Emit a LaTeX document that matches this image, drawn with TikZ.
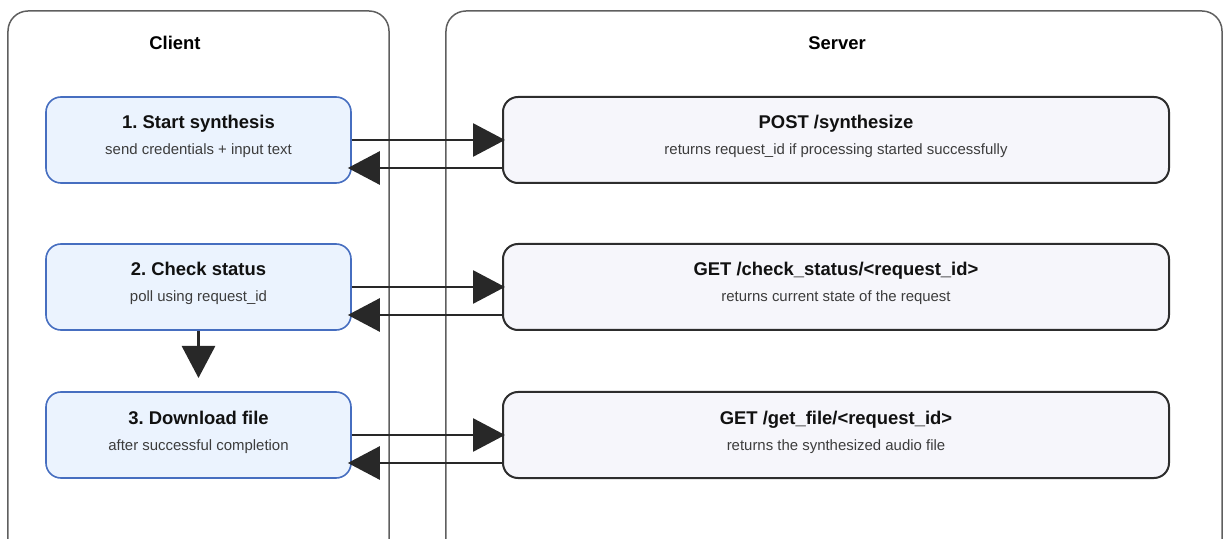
\documentclass[tikz,border=0pt]{standalone}
\usepackage{fontspec}
\setmainfont{Liberation Sans}
\usetikzlibrary{arrows.meta}
\frenchspacing

\definecolor{clientfill}{RGB}{235,243,254}
\definecolor{clientline}{RGB}{70,110,192}
\definecolor{serverfill}{RGB}{246,246,251}
\definecolor{serverline}{RGB}{45,45,45}
\definecolor{frameline}{RGB}{95,95,95}
\definecolor{arrowcol}{RGB}{40,40,40}
\definecolor{subcol}{RGB}{60,60,60}

\tikzset{
  frame/.style={draw=frameline, line width=1.5bp, rounded corners=20bp, inner sep=0pt},
  clientbox/.style={draw=clientline, fill=clientfill, line width=1.6bp, rounded corners=15bp,
    minimum width=305bp, minimum height=86bp, inner sep=0pt},
  serverbox/.style={draw=serverline, fill=serverfill, line width=2bp, rounded corners=15bp,
    minimum width=666bp, minimum height=86bp, inner sep=0pt},
  heading/.style={anchor=base, font=\bfseries\fontsize{18.5}{22}\selectfont, text=black, inner sep=0pt},
  boxtitle/.style={anchor=base, font=\bfseries\fontsize{18.5}{22}\selectfont, text={rgb,255:red,17;green,17;blue,17}, inner sep=0pt},
  boxsub/.style={anchor=base, font=\fontsize{15}{18}\selectfont, text=subcol, inner sep=0pt},
  arr/.style={draw=arrowcol, line width=2.8bp, -{Triangle[length=32bp,width=33bp]}},
}

\begin{document}
\begin{tikzpicture}[x=1bp, y=-1bp]
  \useasboundingbox (0,0) rectangle (1224,539);
  \clip (0,0) rectangle (1224,539);

  % swimlane frames (they run past the lower edge)
  \node[frame, minimum width=381bp, minimum height=550bp] (client) at (198.5,286) {};
  \node[frame, minimum width=776bp, minimum height=550bp] (server) at (834,286) {};
  \node[heading] (clientlbl) at (175,50) {Client};
  \node[heading] (serverlbl) at (837,50) {Server};

  % client steps
  \node[clientbox] (c1) at (198.5,140) {};
  \node[clientbox] (c2) at (198.5,287) {};
  \node[clientbox] (c3) at (198.5,435) {};
  \node[boxtitle] (c1t) at (198.5,129) {1. Start synthesis};
  \node[boxsub]   (c1s) at (198.5,155) {send credentials + input text};
  \node[boxtitle] (c2t) at (198.5,276) {2. Check status};
  \node[boxsub]   (c2s) at (198.5,302) {poll using request\_id};
  \node[boxtitle] (c3t) at (198.5,424) {3. Download file};
  \node[boxsub]   (c3s) at (198.5,450) {after successful completion};

  % server endpoints
  \node[serverbox] (s1) at (836,140) {};
  \node[serverbox] (s2) at (836,287) {};
  \node[serverbox] (s3) at (836,435) {};
  \node[boxtitle] (s1t) at (836,129) {POST /synthesize};
  \node[boxsub]   (s1s) at (836,155) {returns request\_id if processing started successfully};
  \node[boxtitle] (s2t) at (836,276) {GET /check\_status/<request\_id>};
  \node[boxsub]   (s2s) at (836,302) {returns current state of the request};
  \node[boxtitle] (s3t) at (836,424) {GET /get\_file/<request\_id>};
  \node[boxsub]   (s3s) at (836,450) {returns the synthesized audio file};

  % requests and responses
  \foreach \i in {1,2,3}{
    \draw[arr, shorten >=-3bp] (c\i.east) -- (s\i.west);
    \draw[arr, shorten >=-4bp] ([yshift=-28bp]s\i.west) -- ([yshift=-28bp]c\i.east);
  }

  % step 2 leads to step 3
  \coordinate (c2dn) at (198.5,378);
  \draw[arr] (c2.south) -- (c2dn);
\end{tikzpicture}
\end{document}
